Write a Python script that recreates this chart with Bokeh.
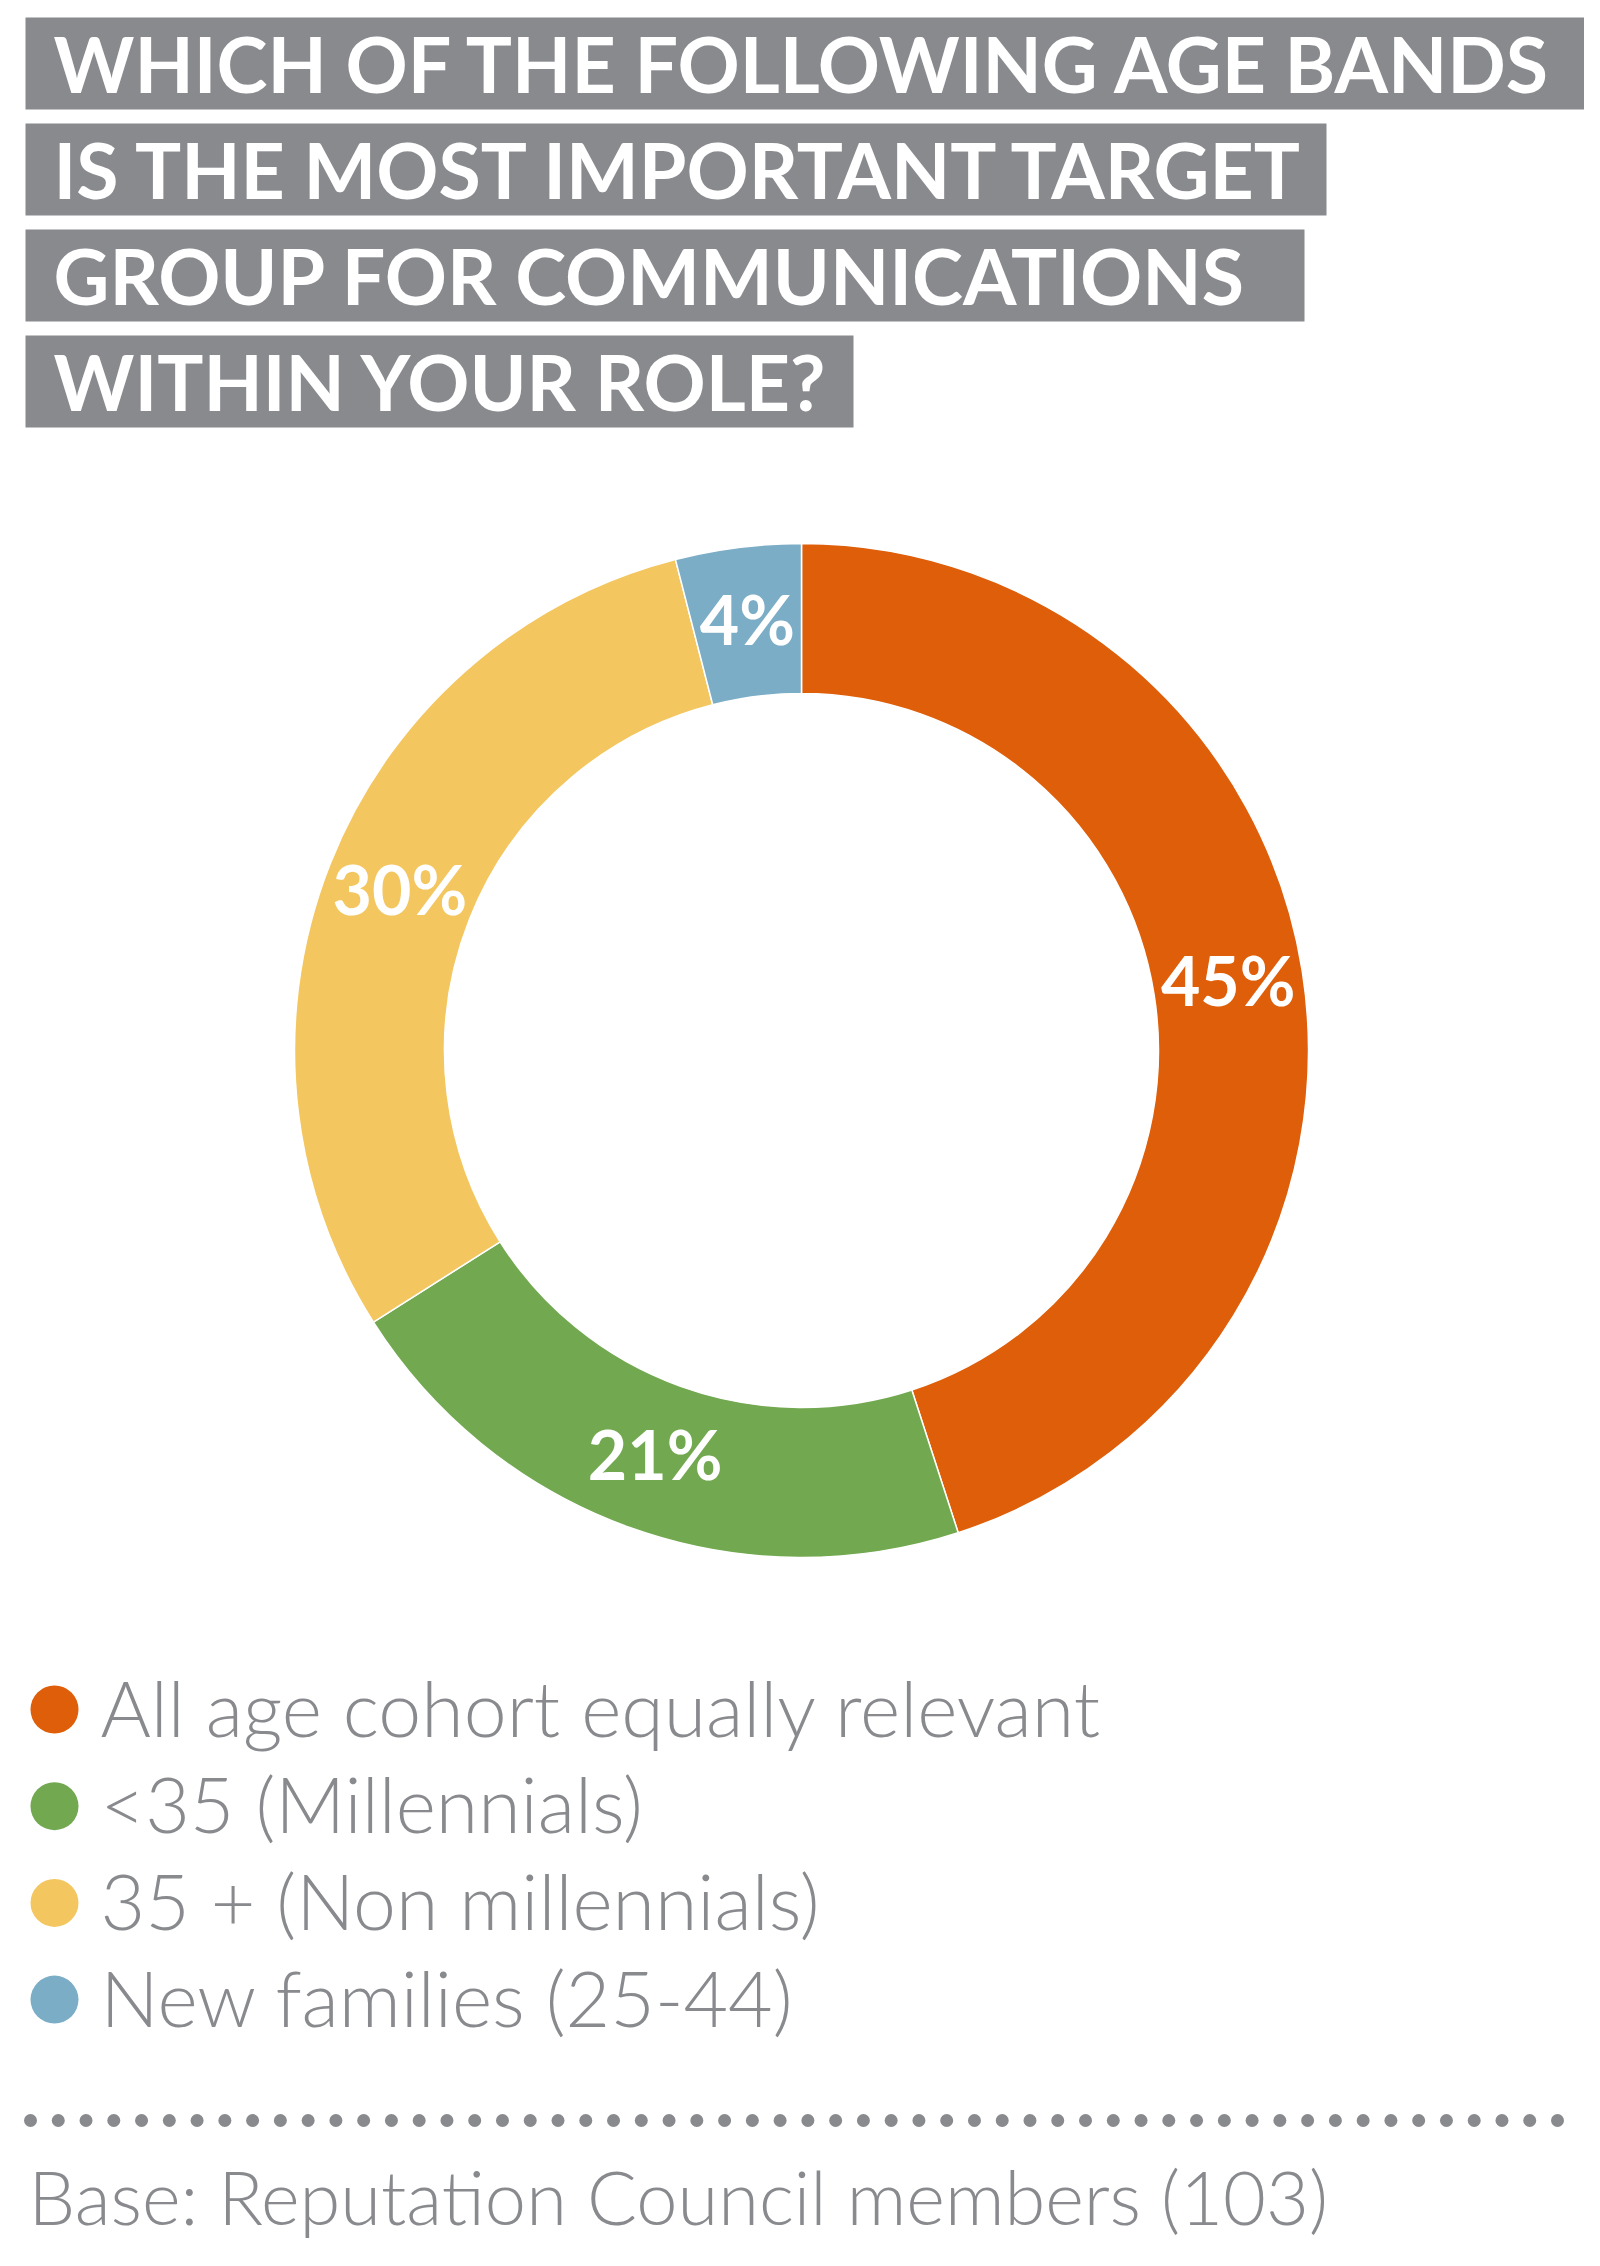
import numpy as np

from bokeh.core.properties import value
from bokeh.embed import file_html
from bokeh.models import ColumnDataSource, Range1d
from bokeh.plotting import figure
from bokeh.resources import INLINE

# question, split the way the boxes are split
title_lines = [
    "WHICH OF THE FOLLOWING AGE BANDS",
    "IS THE MOST IMPORTANT TARGET",
    "GROUP FOR COMMUNICATIONS",
    "WITHIN YOUR ROLE?",
]

# answers, clockwise from twelve o'clock
categories = [
    "All age cohort equally relevant",
    "<35 (Millennials)",
    "35 + (Non millennials)",
    "New families (25-44)",
]
shares = [45, 21, 30, 4]
colors = ["#DE5E09", "#72A950", "#F3C65F", "#7BADC7"]

footnote = "Base: Reputation Council members (103)"

GREY = "#888A8E"

# page layout (px, y grows downwards)
W, H = 1584, 2250
box_right = [1584, 1326, 1304, 853]
CX, CY = 801, 1050
R_OUT, R_IN = 507, 357

p = figure(width=W, height=H, output_backend="svg", toolbar_location=None,
           x_range=Range1d(0, W), y_range=Range1d(H, 0),
           min_border=0, tools="")
p.axis.visible = False
p.grid.visible = False
p.outline_line_color = None
p.background_fill_color = "white"
p.border_fill_color = "white"

# title boxes
tops = [17 + 106 * i for i in range(len(title_lines))]
p.quad(left=25, right=box_right, top=tops, bottom=[t + 92 for t in tops],
       fill_color=GREY, line_color=None)
p.text(x=53, y=[t + 45 for t in tops], text=title_lines,
       text_font=value("Lato"), text_font_style="bold",
       text_font_size="77px", text_color="white",
       text_baseline="middle", text_align="left")

# donut
frac = np.array(shares) / sum(shares)
end = np.cumsum(frac) * 2 * np.pi
start = end - frac * 2 * np.pi
mid = (start + end) / 2
r_mid = (R_OUT + R_IN) / 2
src = ColumnDataSource(dict(
    start=np.pi / 2 - start, end=np.pi / 2 - end, color=colors,
    lx=CX + r_mid * np.sin(mid), ly=CY - r_mid * np.cos(mid) - 3,
    label=[f"{s}%" for s in shares],
))
# y axis is flipped, so clockwise on screen is anticlockwise in data
p.annular_wedge(x=CX, y=CY, inner_radius=R_IN, outer_radius=R_OUT,
                start_angle="end", end_angle="start", direction="anticlock",
                fill_color="color", line_color="white", line_width=1.5,
                source=src)
p.text(x="lx", y="ly", text="label", source=src,
       text_font=value("Lato"), text_font_style="bold",
       text_font_size="68px", text_color="white",
       text_align="center", text_baseline="middle")

# legend
leg_y = [1709 + 96.7 * i for i in range(len(categories))]
p.scatter(x=54, y=leg_y, size=48, marker="circle", fill_color=colors,
          line_color=None)
p.text(x=100, y=[y - 3 for y in leg_y], text=categories,
       text_font=value("Lato Light"), text_font_size="77px",
       text_color=GREY, text_baseline="middle")

# dotted rule and footnote
p.scatter(x=np.linspace(30, 1557, 56), y=2120, size=13, marker="circle",
          fill_color=GREY, line_color=None)
p.text(x=28, y=2196, text=[footnote], text_font=value("Lato Light"),
       text_font_size="74px", text_color=GREY, text_baseline="middle")

open("out.html", "w").write(file_html(p, INLINE))
